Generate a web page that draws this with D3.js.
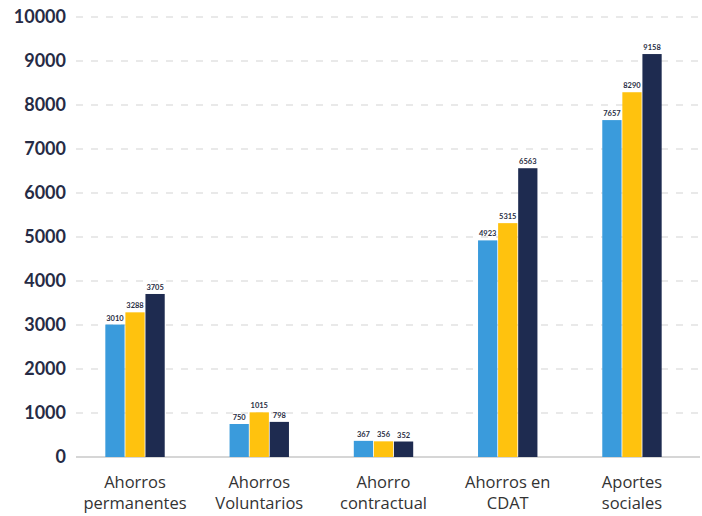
<!DOCTYPE html>
<html><head><meta charset="utf-8">
<script src="https://cdn.jsdelivr.net/npm/d3@7"></script>
<style>body{margin:0;background:#fff;} svg{display:block;}</style>
</head><body>
<script>
const categories = [["Ahorros","permanentes"],["Ahorros","Voluntarios"],["Ahorro","contractual"],["Ahorros en","CDAT"],["Aportes","sociales"]];
const series1 = [3010, 750, 367, 4923, 7657];
const series2 = [3288, 1015, 356, 5315, 8290];
const series3 = [3705, 798, 352, 6563, 9158];
const yTicks = [0,1000,2000,3000,4000,5000,6000,7000,8000,9000,10000];
const colors = ["#3a9bdc","#ffc20e","#1e2b50"];

const W=702,H=516;
const svg=d3.select("body").append("svg").attr("width",W).attr("height",H);
const y=d3.scaleLinear().domain([0,10000]).range([457,17]);
const x=d3.scaleBand().domain(d3.range(categories.length)).range([72.9,694.1]).padding(0);
const groupW=61;
const xs=d3.scaleBand().domain([0,1,2]).range([0,groupW]).padding(0.04);

// gridlines
svg.append("g").selectAll("line").data(yTicks.filter(d=>d>0)).join("line")
  .attr("x1",76).attr("x2",700).attr("y1",d=>y(d)).attr("y2",d=>y(d))
  .attr("stroke","#d3d3d3").attr("stroke-width",1).attr("stroke-dasharray","7,8");
svg.append("line").attr("x1",76).attr("x2",700).attr("y1",y(0)).attr("y2",y(0))
  .attr("stroke","#c8c8c8").attr("stroke-width",1.5);

// y axis labels
const yAxis=d3.axisLeft(y).tickValues(yTicks).tickSize(0).tickPadding(0).tickFormat(d3.format("d"));
const ya=svg.append("g").attr("transform","translate(66,0)").call(yAxis);
ya.select(".domain").remove();
ya.selectAll("text").attr("font-family","Lato").attr("font-weight","700").attr("font-size","18px").attr("fill","#262b45");

const data=[series1,series2,series3];
data.forEach((s,si)=>{
  const g=svg.append("g");
  g.selectAll("rect").data(s).join("rect")
    .attr("x",(d,i)=>x(i)+x.bandwidth()/2-groupW/2+xs(si))
    .attr("width",xs.bandwidth())
    .attr("y",d=>y(d)).attr("height",d=>y(0)-y(d))
    .attr("fill",colors[si]);
  g.selectAll("text").data(s).join("text")
    .attr("x",(d,i)=>x(i)+x.bandwidth()/2-groupW/2+xs(si)+xs.bandwidth()/2)
    .attr("y",d=>y(d)-4)
    .attr("text-anchor","middle").attr("font-family","Lato").attr("font-weight","700")
    .attr("font-size","7.5px").attr("fill","#2a2f45").text(d=>d);
});

// x labels
const xl=svg.append("g");
categories.forEach((c,i)=>{
  const t=xl.append("text").attr("x",x(i)+x.bandwidth()/2).attr("text-anchor","middle")
    .attr("font-family","Open Sans").attr("font-size","16.5px").attr("fill","#333");
  t.append("tspan").attr("x",x(i)+x.bandwidth()/2).attr("y",488).text(c[0]);
  t.append("tspan").attr("x",x(i)+x.bandwidth()/2).attr("y",509).text(c[1]);
});
</script>
</body></html>
